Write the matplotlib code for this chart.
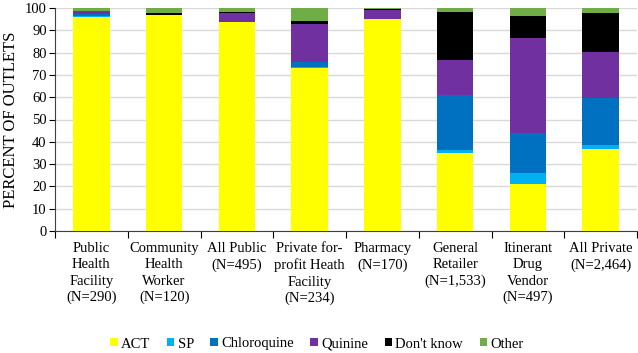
import matplotlib
matplotlib.use("Agg")
import matplotlib.pyplot as plt
from matplotlib.patches import Patch
import numpy as np

plt.rcParams['font.family'] = ['Liberation Serif', 'DejaVu Serif']

categories = ["Public\nHealth\nFacility\n(N=290)", "Community\nHealth\nWorker\n(N=120)",
              "All Public\n(N=495)", "Private for-\nprofit Heath\nFacility\n(N=234)",
              "Pharmacy\n(N=170)", "General\nRetailer\n(N=1,533)",
              "Itinerant\nDrug\nVendor\n(N=497)", "All Private\n(N=2,464)"]
series_names = ["ACT", "SP", "Chloroquine", "Quinine", "Don't know", "Other"]
act         = [96.0, 96.9, 93.7, 73.2, 95.0, 35.1, 21.1, 36.8]
sp          = [0.5,  0.0,  0.0,  0.3,  0.0,  1.2,  4.8,  1.8]
chloroquine = [0.9,  0.0,  0.0,  2.4,  0.0,  24.7, 17.9, 21.2]
quinine     = [1.1,  0.0,  3.9,  16.8, 4.2,  15.7, 42.9, 20.4]
dont_know   = [0.2,  0.9,  0.5,  1.6,  0.4,  21.7, 9.9,  17.6]
other       = [1.3,  2.2,  1.9,  5.7,  0.4,  1.6,  3.4,  2.2]
colors = ["#FFFF00", "#00B0F0", "#0070C0", "#7030A0", "#000000", "#70AD47"]
yticks = list(range(0, 101, 10))

fig = plt.figure(figsize=(6.38, 3.53), dpi=100)
ax = fig.add_axes([55/638, 1-231/353, 582/638, 223/353])

x = np.arange(len(categories))
bottom = np.zeros(len(categories))
for vals, c in zip([act, sp, chloroquine, quinine, dont_know, other], colors):
    ax.bar(x, vals, 0.5, bottom=bottom, color=c, linewidth=0, zorder=3)
    bottom += np.array(vals)

ax.set_xlim(-0.5, len(categories) - 0.5)
ax.set_ylim(0, 100)
ax.set_yticks(yticks)
ax.yaxis.grid(True, color="#D9D9D9", linewidth=1, zorder=0)
ax.tick_params(axis='y', labelsize=10.5, length=4, width=0.8, direction='out', pad=2)

ax.set_xticks(np.arange(-0.5, len(categories) + 0.5, 1.0))
ax.set_xticklabels([])
ax.tick_params(axis='x', which='major', length=5, width=0.8, direction='out')
ax.set_xticks(x, minor=True)
ax.set_xticklabels(categories, minor=True, fontsize=10.5, linespacing=1.32)
ax.tick_params(axis='x', which='minor', length=0, pad=8)

for s in ['top', 'right']:
    ax.spines[s].set_visible(False)
ax.spines['left'].set_color('#404040')
ax.spines['bottom'].set_color('#404040')

ax.set_ylabel("PERCENT OF OUTLETS", fontsize=12, labelpad=4)

handles = [Patch(facecolor=c, edgecolor='none', label=n) for c, n in zip(colors, series_names)]
fig.legend(handles=handles, loc='center', bbox_to_anchor=(317/638, 1-344/353), ncol=6,
           frameon=False, fontsize=10.5, handlelength=0.5, handleheight=0.5,
           handletextpad=0.25, columnspacing=1.12)

fig.savefig("out.png", dpi=100)
